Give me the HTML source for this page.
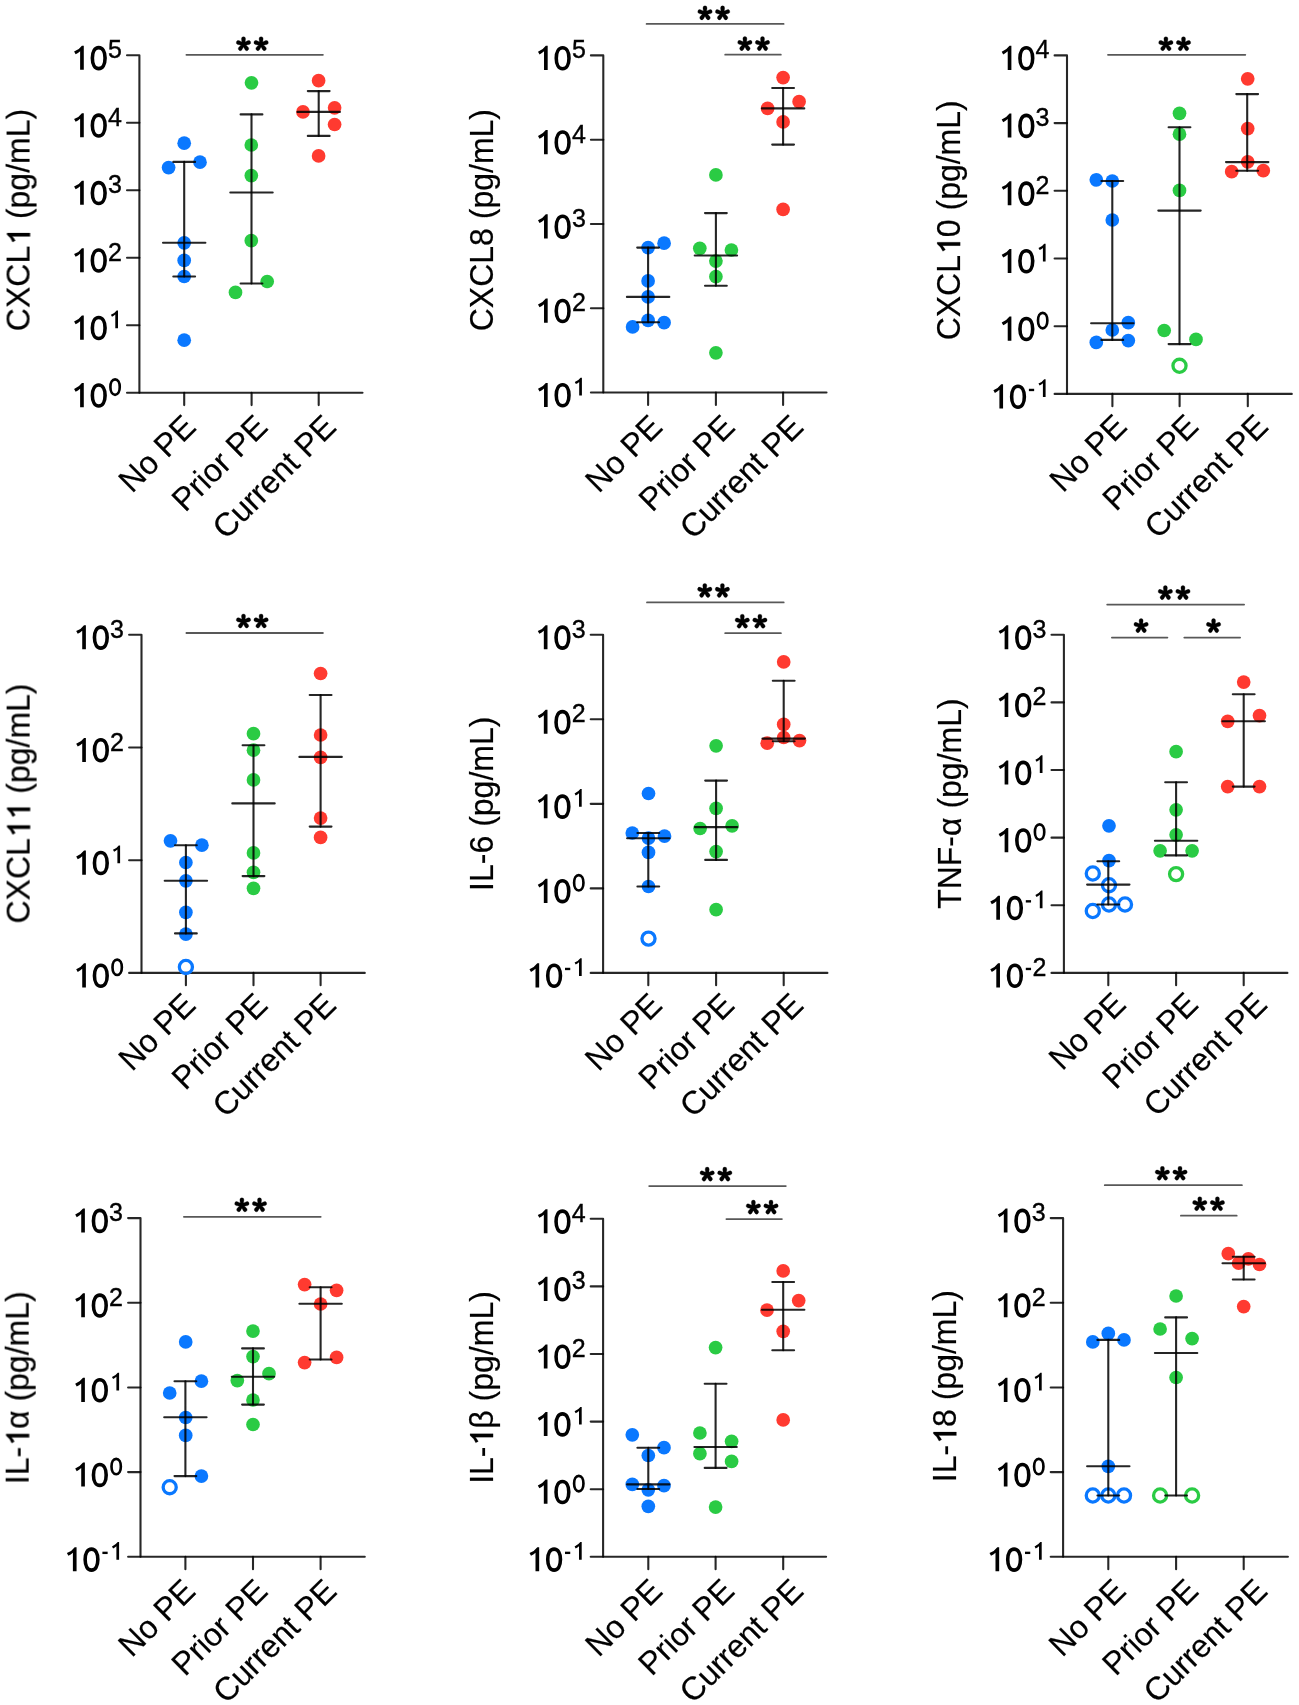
<!DOCTYPE html>
<html><head><meta charset="utf-8"><style>html,body{margin:0;padding:0;background:#fff;}svg{display:block}</style></head>
<body><svg width="1299" height="1705" viewBox="0 0 1299 1705" font-family="'Liberation Sans', sans-serif" fill="#000">
<rect width="1299" height="1705" fill="#fff"/>
<g opacity="0.999"><g><path d="M127 55.3H139.4V392.7" stroke="#000" stroke-opacity="0.85" stroke-width="2.1" fill="none" stroke-linecap="round" stroke-linejoin="round"/><path d="M127 392.7H362.5" stroke="#000" stroke-opacity="0.85" stroke-width="2.1" fill="none" stroke-linecap="round"/><path d="M127 122.78H139.4M127 190.26H139.4M127 257.74H139.4M127 325.22H139.4M184.2 392.7V405.1M251.6 392.7V405.1M318.7 392.7V405.1" stroke="#000" stroke-opacity="0.85" stroke-width="2.1" fill="none" stroke-linecap="round"/><path d="M83.79 69.8L83.79 45.69L81.92 45.69Q79.37 49.4 74.1 51.61L75.63 54.33Q78.08 53.14 80.12 51.27L80.12 69.8Z"/><path d="M98.72 47.62C102.53 47.62 105.08 51.81 105.08 58.1C105.08 64.39 102.53 68.59 98.72 68.59C94.9 68.59 92.36 64.39 92.36 58.1C92.36 51.81 94.9 47.62 98.72 47.62Z" fill="none" stroke="#000" stroke-width="3.6"/><text x="0" y="0" font-size="25" transform="translate(108 58.3) scale(1 1.035)" stroke="#000" stroke-width="0.4">5</text><path d="M83.79 137.28L83.79 113.17L81.92 113.17Q79.37 116.88 74.1 119.09L75.63 121.81Q78.08 120.62 80.12 118.75L80.12 137.28Z"/><path d="M98.72 115.1C102.53 115.1 105.08 119.29 105.08 125.58C105.08 131.87 102.53 136.07 98.72 136.07C94.9 136.07 92.36 131.87 92.36 125.58C92.36 119.29 94.9 115.1 98.72 115.1Z" fill="none" stroke="#000" stroke-width="3.6"/><text x="0" y="0" font-size="25" transform="translate(108 125.78) scale(1 1.035)" stroke="#000" stroke-width="0.4">4</text><path d="M83.79 204.76L83.79 180.65L81.92 180.65Q79.37 184.36 74.1 186.57L75.63 189.29Q78.08 188.1 80.12 186.23L80.12 204.76Z"/><path d="M98.72 182.58C102.53 182.58 105.08 186.77 105.08 193.06C105.08 199.35 102.53 203.55 98.72 203.55C94.9 203.55 92.36 199.35 92.36 193.06C92.36 186.77 94.9 182.58 98.72 182.58Z" fill="none" stroke="#000" stroke-width="3.6"/><text x="0" y="0" font-size="25" transform="translate(108 193.26) scale(1 1.035)" stroke="#000" stroke-width="0.4">3</text><path d="M83.79 272.24L83.79 248.13L81.92 248.13Q79.37 251.84 74.1 254.05L75.63 256.77Q78.08 255.58 80.12 253.71L80.12 272.24Z"/><path d="M98.72 250.06C102.53 250.06 105.08 254.25 105.08 260.54C105.08 266.83 102.53 271.03 98.72 271.03C94.9 271.03 92.36 266.83 92.36 260.54C92.36 254.25 94.9 250.06 98.72 250.06Z" fill="none" stroke="#000" stroke-width="3.6"/><text x="0" y="0" font-size="25" transform="translate(108 260.74) scale(1 1.035)" stroke="#000" stroke-width="0.4">2</text><path d="M83.79 339.72L83.79 315.61L81.92 315.61Q79.37 319.32 74.1 321.53L75.63 324.25Q78.08 323.06 80.12 321.19L80.12 339.72Z"/><path d="M98.72 317.54C102.53 317.54 105.08 321.73 105.08 328.02C105.08 334.31 102.53 338.51 98.72 338.51C94.9 338.51 92.36 334.31 92.36 328.02C92.36 321.73 94.9 317.54 98.72 317.54Z" fill="none" stroke="#000" stroke-width="3.6"/><path d="M118 328.22L118 310.49L116.62 310.49Q114.75 313.22 110.88 314.84L112 316.84Q113.8 315.97 115.3 314.59L115.3 328.22Z"/><path d="M83.79 407.2L83.79 383.09L81.92 383.09Q79.37 386.8 74.1 389.01L75.63 391.73Q78.08 390.54 80.12 388.67L80.12 407.2Z"/><path d="M98.72 385.02C102.53 385.02 105.08 389.21 105.08 395.5C105.08 401.79 102.53 405.99 98.72 405.99C94.9 405.99 92.36 401.79 92.36 395.5C92.36 389.21 94.9 385.02 98.72 385.02Z" fill="none" stroke="#000" stroke-width="3.6"/><path d="M115.08 379.39C117.88 379.39 119.75 382.48 119.75 387.1C119.75 391.72 117.88 394.81 115.08 394.81C112.27 394.81 110.4 391.72 110.4 387.1C110.4 382.48 112.27 379.39 115.08 379.39Z" fill="none" stroke="#000" stroke-width="2.65"/><g transform="translate(30 220) rotate(-90) scale(1 1.015)"><g font-size="32" stroke="#000" stroke-width="0.2" style="font-kerning:none"><text x="-111.15" y="0" xml:space="preserve">CXCL</text><path stroke="#000" stroke-width="0.2" d="M-12.99 0L-12.99 -22.69L-14.75 -22.69Q-17.15 -19.2 -22.11 -17.12L-20.67 -14.56Q-18.36 -15.68 -16.44 -17.44L-16.44 0Z"/><text x="-7.99" y="0" xml:space="preserve"> (pg/mL)</text></g></g><g transform="translate(197.5 428.7) rotate(-45) scale(1 1.015)"><g font-size="32" stroke="#000" stroke-width="0.2" style="font-kerning:none"><text x="-92.48" y="0" xml:space="preserve">No PE</text></g></g><g transform="translate(269.4 428.7) rotate(-45) scale(1 1.015)"><g font-size="32" stroke="#000" stroke-width="0.2" style="font-kerning:none"><text x="-119.14" y="0" xml:space="preserve">Prior PE</text></g></g><g transform="translate(337.9 428.7) rotate(-45) scale(1 1.015)"><g font-size="32" stroke="#000" stroke-width="0.2" style="font-kerning:none"><text x="-158.28" y="0" xml:space="preserve">Current PE</text></g></g><circle cx="184.2" cy="143.2" r="6.85" fill="#0a78ff"/><circle cx="168.6" cy="167.6" r="6.85" fill="#0a78ff"/><circle cx="200" cy="162.2" r="6.85" fill="#0a78ff"/><circle cx="184.2" cy="242.8" r="6.85" fill="#0a78ff"/><circle cx="184.2" cy="260.4" r="6.85" fill="#0a78ff"/><circle cx="184.2" cy="276.5" r="6.85" fill="#0a78ff"/><circle cx="184.2" cy="340.2" r="6.85" fill="#0a78ff"/><circle cx="251.5" cy="82.8" r="6.85" fill="#2acb44"/><circle cx="251.3" cy="145" r="6.85" fill="#2acb44"/><circle cx="251.3" cy="175.6" r="6.85" fill="#2acb44"/><circle cx="251.3" cy="240.7" r="6.85" fill="#2acb44"/><circle cx="267.2" cy="281.5" r="6.85" fill="#2acb44"/><circle cx="235.5" cy="292.4" r="6.85" fill="#2acb44"/><circle cx="318.6" cy="80.7" r="6.85" fill="#ff3a30"/><circle cx="303" cy="111.9" r="6.85" fill="#ff3a30"/><circle cx="334.6" cy="107.8" r="6.85" fill="#ff3a30"/><circle cx="334.6" cy="124.5" r="6.85" fill="#ff3a30"/><circle cx="318.6" cy="155.9" r="6.85" fill="#ff3a30"/><path d="M184.2 161.9V276.5M251.5 114.4V283.5M318.7 91.1V135.9" stroke="#000" stroke-opacity="0.86" stroke-width="2.1" fill="none" stroke-linecap="round"/><path d="M173.3 161.9H195.1M173.3 276.5H195.1M163 242.8H205.4M240.6 114.4H262.4M240.6 283.5H262.4M230.3 192.5H272.7M307.8 91.1H329.6M307.8 135.9H329.6M297.5 111.9H339.9" stroke="#000" stroke-opacity="0.86" stroke-width="2.1" fill="none" stroke-linecap="round"/><path d="M186.4 54.8H322.9" stroke="#585858" stroke-width="1.8" fill="none" stroke-linecap="round"/><path d="M244.85 44.2L245.55 38.75A2.05 2.05 0 0 0 241.45 38.75L242.15 44.2ZM243.92 45.48L249.32 44.47A2.05 2.05 0 0 0 248.05 40.57L243.08 42.92ZM242.41 44.99L245.04 49.81A2.05 2.05 0 0 0 248.36 47.4L244.59 43.41ZM242.41 43.41L238.64 47.4A2.05 2.05 0 0 0 241.96 49.81L244.59 44.99ZM243.92 42.92L238.95 40.57A2.05 2.05 0 0 0 237.68 44.47L243.08 45.48Z" fill="#000" stroke="#000" stroke-width="0.3" stroke-linejoin="round"/><path d="M262.45 44.2L263.15 38.75A2.05 2.05 0 0 0 259.05 38.75L259.75 44.2ZM261.52 45.48L266.92 44.47A2.05 2.05 0 0 0 265.65 40.57L260.68 42.92ZM260.01 44.99L262.64 49.81A2.05 2.05 0 0 0 265.96 47.4L262.19 43.41ZM260.01 43.41L256.24 47.4A2.05 2.05 0 0 0 259.56 49.81L262.19 44.99ZM261.52 42.92L256.55 40.57A2.05 2.05 0 0 0 255.28 44.47L260.68 45.48Z" fill="#000" stroke="#000" stroke-width="0.3" stroke-linejoin="round"/></g><g><path d="M590.9 55.4H603.3V392.5" stroke="#000" stroke-opacity="0.85" stroke-width="2.1" fill="none" stroke-linecap="round" stroke-linejoin="round"/><path d="M590.9 392.5H826.5" stroke="#000" stroke-opacity="0.85" stroke-width="2.1" fill="none" stroke-linecap="round"/><path d="M590.9 139.68H603.3M590.9 223.95H603.3M590.9 308.23H603.3M648.1 392.5V404.9M715.9 392.5V404.9M783.1 392.5V404.9" stroke="#000" stroke-opacity="0.85" stroke-width="2.1" fill="none" stroke-linecap="round"/><path d="M547.69 69.9L547.69 45.79L545.82 45.79Q543.27 49.5 538 51.71L539.53 54.43Q541.98 53.24 544.02 51.37L544.02 69.9Z"/><path d="M562.62 47.72C566.43 47.72 568.98 51.91 568.98 58.2C568.98 64.49 566.43 68.69 562.62 68.69C558.8 68.69 556.26 64.49 556.26 58.2C556.26 51.91 558.8 47.72 562.62 47.72Z" fill="none" stroke="#000" stroke-width="3.6"/><text x="0" y="0" font-size="25" transform="translate(571.9 58.4) scale(1 1.035)" stroke="#000" stroke-width="0.4">5</text><path d="M547.69 154.18L547.69 130.07L545.82 130.07Q543.27 133.78 538 135.99L539.53 138.71Q541.98 137.52 544.02 135.65L544.02 154.18Z"/><path d="M562.62 132C566.43 132 568.98 136.19 568.98 142.48C568.98 148.77 566.43 152.96 562.62 152.96C558.8 152.96 556.26 148.77 556.26 142.48C556.26 136.19 558.8 132 562.62 132Z" fill="none" stroke="#000" stroke-width="3.6"/><text x="0" y="0" font-size="25" transform="translate(571.9 142.68) scale(1 1.035)" stroke="#000" stroke-width="0.4">4</text><path d="M547.69 238.45L547.69 214.34L545.82 214.34Q543.27 218.05 538 220.26L539.53 222.98Q541.98 221.79 544.02 219.92L544.02 238.45Z"/><path d="M562.62 216.27C566.43 216.27 568.98 220.46 568.98 226.75C568.98 233.04 566.43 237.24 562.62 237.24C558.8 237.24 556.26 233.04 556.26 226.75C556.26 220.46 558.8 216.27 562.62 216.27Z" fill="none" stroke="#000" stroke-width="3.6"/><text x="0" y="0" font-size="25" transform="translate(571.9 226.95) scale(1 1.035)" stroke="#000" stroke-width="0.4">3</text><path d="M547.69 322.73L547.69 298.62L545.82 298.62Q543.27 302.33 538 304.54L539.53 307.25Q541.98 306.06 544.02 304.2L544.02 322.73Z"/><path d="M562.62 300.55C566.43 300.55 568.98 304.74 568.98 311.03C568.98 317.32 566.43 321.51 562.62 321.51C558.8 321.51 556.26 317.32 556.26 311.03C556.26 304.74 558.8 300.55 562.62 300.55Z" fill="none" stroke="#000" stroke-width="3.6"/><text x="0" y="0" font-size="25" transform="translate(571.9 311.23) scale(1 1.035)" stroke="#000" stroke-width="0.4">2</text><path d="M547.69 407L547.69 382.89L545.82 382.89Q543.27 386.6 538 388.81L539.53 391.53Q541.98 390.34 544.02 388.47L544.02 407Z"/><path d="M562.62 384.82C566.43 384.82 568.98 389.01 568.98 395.3C568.98 401.59 566.43 405.79 562.62 405.79C558.8 405.79 556.26 401.59 556.26 395.3C556.26 389.01 558.8 384.82 562.62 384.82Z" fill="none" stroke="#000" stroke-width="3.6"/><path d="M581.9 395.5L581.9 377.77L580.52 377.77Q578.65 380.5 574.77 382.12L575.9 384.12Q577.7 383.25 579.2 381.88L579.2 395.5Z"/><g transform="translate(492.5 220.1) rotate(-90) scale(1 1.015)"><g font-size="32" stroke="#000" stroke-width="0.2" style="font-kerning:none"><text x="-111.15" y="0" xml:space="preserve">CXCL8 (pg/mL)</text></g></g><g transform="translate(664.2 428.7) rotate(-45) scale(1 1.015)"><g font-size="32" stroke="#000" stroke-width="0.2" style="font-kerning:none"><text x="-92.48" y="0" xml:space="preserve">No PE</text></g></g><g transform="translate(736.5 428.7) rotate(-45) scale(1 1.015)"><g font-size="32" stroke="#000" stroke-width="0.2" style="font-kerning:none"><text x="-119.14" y="0" xml:space="preserve">Prior PE</text></g></g><g transform="translate(805.1 428.7) rotate(-45) scale(1 1.015)"><g font-size="32" stroke="#000" stroke-width="0.2" style="font-kerning:none"><text x="-158.28" y="0" xml:space="preserve">Current PE</text></g></g><circle cx="664.1" cy="243.2" r="6.85" fill="#0a78ff"/><circle cx="648.1" cy="247.6" r="6.85" fill="#0a78ff"/><circle cx="648.1" cy="280.9" r="6.85" fill="#0a78ff"/><circle cx="648.1" cy="296.9" r="6.85" fill="#0a78ff"/><circle cx="648.1" cy="320.3" r="6.85" fill="#0a78ff"/><circle cx="664.1" cy="322.7" r="6.85" fill="#0a78ff"/><circle cx="632.6" cy="326.9" r="6.85" fill="#0a78ff"/><circle cx="715.9" cy="174.9" r="6.85" fill="#2acb44"/><circle cx="699.8" cy="248.3" r="6.85" fill="#2acb44"/><circle cx="731.4" cy="250" r="6.85" fill="#2acb44"/><circle cx="715.9" cy="261.1" r="6.85" fill="#2acb44"/><circle cx="715.9" cy="276.7" r="6.85" fill="#2acb44"/><circle cx="715.9" cy="352.8" r="6.85" fill="#2acb44"/><circle cx="783.1" cy="77.6" r="6.85" fill="#ff3a30"/><circle cx="799.1" cy="101.7" r="6.85" fill="#ff3a30"/><circle cx="767.6" cy="108.4" r="6.85" fill="#ff3a30"/><circle cx="783.1" cy="121.9" r="6.85" fill="#ff3a30"/><circle cx="783.1" cy="209.4" r="6.85" fill="#ff3a30"/><path d="M648.1 247.6V322.2M715.9 213.1V285.8M783.1 88V144.6" stroke="#000" stroke-opacity="0.86" stroke-width="2.1" fill="none" stroke-linecap="round"/><path d="M637.2 247.6H659M637.2 322.2H659M626.9 296.9H669.3M705 213.1H726.8M705 285.8H726.8M694.7 255.5H737.1M772.2 88H794M772.2 144.6H794M761.9 108.4H804.3" stroke="#000" stroke-opacity="0.86" stroke-width="2.1" fill="none" stroke-linecap="round"/><path d="M646.6 23.95H783.6" stroke="#585858" stroke-width="1.8" fill="none" stroke-linecap="round"/><path d="M706.35 13.35L707.05 7.9A2.05 2.05 0 0 0 702.95 7.9L703.65 13.35ZM705.42 14.63L710.82 13.62A2.05 2.05 0 0 0 709.55 9.72L704.58 12.07ZM703.91 14.14L706.54 18.96A2.05 2.05 0 0 0 709.86 16.55L706.09 12.56ZM703.91 12.56L700.14 16.55A2.05 2.05 0 0 0 703.46 18.96L706.09 14.14ZM705.42 12.07L700.45 9.72A2.05 2.05 0 0 0 699.18 13.62L704.58 14.63Z" fill="#000" stroke="#000" stroke-width="0.3" stroke-linejoin="round"/><path d="M723.95 13.35L724.65 7.9A2.05 2.05 0 0 0 720.55 7.9L721.25 13.35ZM723.02 14.63L728.42 13.62A2.05 2.05 0 0 0 727.15 9.72L722.18 12.07ZM721.51 14.14L724.14 18.96A2.05 2.05 0 0 0 727.46 16.55L723.69 12.56ZM721.51 12.56L717.74 16.55A2.05 2.05 0 0 0 721.06 18.96L723.69 14.14ZM723.02 12.07L718.05 9.72A2.05 2.05 0 0 0 716.78 13.62L722.18 14.63Z" fill="#000" stroke="#000" stroke-width="0.3" stroke-linejoin="round"/><path d="M725.2 54.7H780.8" stroke="#585858" stroke-width="1.8" fill="none" stroke-linecap="round"/><path d="M746.25 44.1L746.95 38.65A2.05 2.05 0 0 0 742.85 38.65L743.55 44.1ZM745.32 45.38L750.72 44.37A2.05 2.05 0 0 0 749.45 40.47L744.48 42.82ZM743.81 44.89L746.44 49.71A2.05 2.05 0 0 0 749.76 47.3L745.99 43.31ZM743.81 43.31L740.04 47.3A2.05 2.05 0 0 0 743.36 49.71L745.99 44.89ZM745.32 42.82L740.35 40.47A2.05 2.05 0 0 0 739.08 44.37L744.48 45.38Z" fill="#000" stroke="#000" stroke-width="0.3" stroke-linejoin="round"/><path d="M763.85 44.1L764.55 38.65A2.05 2.05 0 0 0 760.45 38.65L761.15 44.1ZM762.92 45.38L768.32 44.37A2.05 2.05 0 0 0 767.05 40.47L762.08 42.82ZM761.41 44.89L764.04 49.71A2.05 2.05 0 0 0 767.36 47.3L763.59 43.31ZM761.41 43.31L757.64 47.3A2.05 2.05 0 0 0 760.96 49.71L763.59 44.89ZM762.92 42.82L757.95 40.47A2.05 2.05 0 0 0 756.68 44.37L762.08 45.38Z" fill="#000" stroke="#000" stroke-width="0.3" stroke-linejoin="round"/></g><g><path d="M1054.6 55.4H1067V393.9" stroke="#000" stroke-opacity="0.85" stroke-width="2.1" fill="none" stroke-linecap="round" stroke-linejoin="round"/><path d="M1054.6 393.9H1291.8" stroke="#000" stroke-opacity="0.85" stroke-width="2.1" fill="none" stroke-linecap="round"/><path d="M1054.6 123.1H1067M1054.6 190.8H1067M1054.6 258.5H1067M1054.6 326.2H1067M1112.4 393.9V406.3M1179.6 393.9V406.3M1247.8 393.9V406.3" stroke="#000" stroke-opacity="0.85" stroke-width="2.1" fill="none" stroke-linecap="round"/><path d="M1011.39 69.9L1011.39 45.79L1009.52 45.79Q1006.97 49.5 1001.7 51.71L1003.23 54.43Q1005.68 53.24 1007.72 51.37L1007.72 69.9Z"/><path d="M1026.32 47.72C1030.13 47.72 1032.68 51.91 1032.68 58.2C1032.68 64.49 1030.13 68.69 1026.32 68.69C1022.5 68.69 1019.96 64.49 1019.96 58.2C1019.96 51.91 1022.5 47.72 1026.32 47.72Z" fill="none" stroke="#000" stroke-width="3.6"/><text x="0" y="0" font-size="25" transform="translate(1035.6 58.4) scale(1 1.035)" stroke="#000" stroke-width="0.4">4</text><path d="M1011.39 137.6L1011.39 113.49L1009.52 113.49Q1006.97 117.2 1001.7 119.41L1003.23 122.13Q1005.68 120.94 1007.72 119.07L1007.72 137.6Z"/><path d="M1026.32 115.42C1030.13 115.42 1032.68 119.61 1032.68 125.9C1032.68 132.19 1030.13 136.39 1026.32 136.39C1022.5 136.39 1019.96 132.19 1019.96 125.9C1019.96 119.61 1022.5 115.42 1026.32 115.42Z" fill="none" stroke="#000" stroke-width="3.6"/><text x="0" y="0" font-size="25" transform="translate(1035.6 126.1) scale(1 1.035)" stroke="#000" stroke-width="0.4">3</text><path d="M1011.39 205.3L1011.39 181.19L1009.52 181.19Q1006.97 184.9 1001.7 187.11L1003.23 189.83Q1005.68 188.64 1007.72 186.77L1007.72 205.3Z"/><path d="M1026.32 183.12C1030.13 183.12 1032.68 187.31 1032.68 193.6C1032.68 199.89 1030.13 204.09 1026.32 204.09C1022.5 204.09 1019.96 199.89 1019.96 193.6C1019.96 187.31 1022.5 183.12 1026.32 183.12Z" fill="none" stroke="#000" stroke-width="3.6"/><text x="0" y="0" font-size="25" transform="translate(1035.6 193.8) scale(1 1.035)" stroke="#000" stroke-width="0.4">2</text><path d="M1011.39 273L1011.39 248.89L1009.52 248.89Q1006.97 252.6 1001.7 254.81L1003.23 257.53Q1005.68 256.34 1007.72 254.47L1007.72 273Z"/><path d="M1026.32 250.82C1030.13 250.82 1032.68 255.01 1032.68 261.3C1032.68 267.59 1030.13 271.79 1026.32 271.79C1022.5 271.79 1019.96 267.59 1019.96 261.3C1019.96 255.01 1022.5 250.82 1026.32 250.82Z" fill="none" stroke="#000" stroke-width="3.6"/><path d="M1045.6 261.5L1045.6 243.78L1044.22 243.78Q1042.35 246.5 1038.47 248.12L1039.6 250.12Q1041.4 249.25 1042.9 247.88L1042.9 261.5Z"/><path d="M1011.39 340.7L1011.39 316.59L1009.52 316.59Q1006.97 320.3 1001.7 322.51L1003.23 325.23Q1005.68 324.04 1007.72 322.17L1007.72 340.7Z"/><path d="M1026.32 318.52C1030.13 318.52 1032.68 322.71 1032.68 329C1032.68 335.29 1030.13 339.49 1026.32 339.49C1022.5 339.49 1019.96 335.29 1019.96 329C1019.96 322.71 1022.5 318.52 1026.32 318.52Z" fill="none" stroke="#000" stroke-width="3.6"/><path d="M1042.67 312.89C1045.48 312.89 1047.35 315.98 1047.35 320.6C1047.35 325.22 1045.48 328.31 1042.67 328.31C1039.87 328.31 1038 325.22 1038 320.6C1038 315.98 1039.87 312.89 1042.67 312.89Z" fill="none" stroke="#000" stroke-width="2.65"/><path d="M1003.07 408.4L1003.07 384.29L1001.2 384.29Q998.65 388 993.38 390.21L994.91 392.93Q997.36 391.74 999.4 389.87L999.4 408.4Z"/><path d="M1017.99 386.22C1021.81 386.22 1024.35 390.41 1024.35 396.7C1024.35 402.99 1021.81 407.19 1017.99 407.19C1014.18 407.19 1011.64 402.99 1011.64 396.7C1011.64 390.41 1014.18 386.22 1017.99 386.22Z" fill="none" stroke="#000" stroke-width="3.6"/><rect x="1028.9" y="388.77" width="5.25" height="2.38"/><path d="M1045.6 396.9L1045.6 379.17L1044.23 379.17Q1042.35 381.9 1038.48 383.52L1039.6 385.52Q1041.4 384.65 1042.9 383.27L1042.9 396.9Z"/><g transform="translate(960.2 220.3) rotate(-90) scale(1 1.015)"><g font-size="32" stroke="#000" stroke-width="0.2" style="font-kerning:none"><text x="-120.05" y="0" xml:space="preserve">CXCL</text><path stroke="#000" stroke-width="0.2" d="M-21.89 0L-21.89 -22.69L-23.65 -22.69Q-26.05 -19.2 -31.01 -17.12L-29.57 -14.56Q-27.26 -15.68 -25.34 -17.44L-25.34 0Z"/><text x="-16.89" y="0" xml:space="preserve">0 (pg/mL)</text></g></g><g transform="translate(1128.5 428.05) rotate(-45) scale(1 1.015)"><g font-size="32" stroke="#000" stroke-width="0.2" style="font-kerning:none"><text x="-92.48" y="0" xml:space="preserve">No PE</text></g></g><g transform="translate(1200.2 428.05) rotate(-45) scale(1 1.015)"><g font-size="32" stroke="#000" stroke-width="0.2" style="font-kerning:none"><text x="-119.14" y="0" xml:space="preserve">Prior PE</text></g></g><g transform="translate(1269.8 428.05) rotate(-45) scale(1 1.015)"><g font-size="32" stroke="#000" stroke-width="0.2" style="font-kerning:none"><text x="-158.28" y="0" xml:space="preserve">Current PE</text></g></g><circle cx="1096.3" cy="179.8" r="6.85" fill="#0a78ff"/><circle cx="1112.3" cy="181" r="6.85" fill="#0a78ff"/><circle cx="1112.3" cy="220" r="6.85" fill="#0a78ff"/><circle cx="1128.3" cy="322.7" r="6.85" fill="#0a78ff"/><circle cx="1112.3" cy="330" r="6.85" fill="#0a78ff"/><circle cx="1096.3" cy="342.4" r="6.85" fill="#0a78ff"/><circle cx="1128.3" cy="340.6" r="6.85" fill="#0a78ff"/><circle cx="1179.5" cy="113.3" r="6.85" fill="#2acb44"/><circle cx="1179.5" cy="134.2" r="6.85" fill="#2acb44"/><circle cx="1179.5" cy="190.4" r="6.85" fill="#2acb44"/><circle cx="1164.2" cy="330.5" r="6.85" fill="#2acb44"/><circle cx="1196" cy="339.4" r="6.85" fill="#2acb44"/><circle cx="1179.5" cy="365.8" r="6.55" fill="none" stroke="#2acb44" stroke-width="3.3"/><circle cx="1247.7" cy="78.8" r="6.85" fill="#ff3a30"/><circle cx="1247.7" cy="128.6" r="6.85" fill="#ff3a30"/><circle cx="1247.7" cy="161.8" r="6.85" fill="#ff3a30"/><circle cx="1231.7" cy="171.7" r="6.85" fill="#ff3a30"/><circle cx="1263.3" cy="170.7" r="6.85" fill="#ff3a30"/><path d="M1112.3 181V339.9M1179.5 127.3V344.1M1247.2 94.1V170.7" stroke="#000" stroke-opacity="0.86" stroke-width="2.1" fill="none" stroke-linecap="round"/><path d="M1101.4 181H1123.2M1101.4 339.9H1123.2M1091.1 323.2H1133.5M1168.6 127.3H1190.4M1168.6 344.1H1190.4M1158.3 210.6H1200.7M1236.3 94.1H1258.1M1236.3 170.7H1258.1M1226 162.1H1268.4" stroke="#000" stroke-opacity="0.86" stroke-width="2.1" fill="none" stroke-linecap="round"/><path d="M1108 54.8H1245.3" stroke="#585858" stroke-width="1.8" fill="none" stroke-linecap="round"/><path d="M1167.25 44.2L1167.95 38.75A2.05 2.05 0 0 0 1163.85 38.75L1164.55 44.2ZM1166.32 45.48L1171.72 44.47A2.05 2.05 0 0 0 1170.45 40.57L1165.48 42.92ZM1164.81 44.99L1167.44 49.81A2.05 2.05 0 0 0 1170.76 47.4L1166.99 43.41ZM1164.81 43.41L1161.04 47.4A2.05 2.05 0 0 0 1164.36 49.81L1166.99 44.99ZM1166.32 42.92L1161.35 40.57A2.05 2.05 0 0 0 1160.08 44.47L1165.48 45.48Z" fill="#000" stroke="#000" stroke-width="0.3" stroke-linejoin="round"/><path d="M1184.85 44.2L1185.55 38.75A2.05 2.05 0 0 0 1181.45 38.75L1182.15 44.2ZM1183.92 45.48L1189.32 44.47A2.05 2.05 0 0 0 1188.05 40.57L1183.08 42.92ZM1182.41 44.99L1185.04 49.81A2.05 2.05 0 0 0 1188.36 47.4L1184.59 43.41ZM1182.41 43.41L1178.64 47.4A2.05 2.05 0 0 0 1181.96 49.81L1184.59 44.99ZM1183.92 42.92L1178.95 40.57A2.05 2.05 0 0 0 1177.68 44.47L1183.08 45.48Z" fill="#000" stroke="#000" stroke-width="0.3" stroke-linejoin="round"/></g><g><path d="M129.1 634.8H141.5V972.9" stroke="#000" stroke-opacity="0.85" stroke-width="2.1" fill="none" stroke-linecap="round" stroke-linejoin="round"/><path d="M129.1 972.9H364.8" stroke="#000" stroke-opacity="0.85" stroke-width="2.1" fill="none" stroke-linecap="round"/><path d="M129.1 747.5H141.5M129.1 860.2H141.5M185.9 972.9V985.3M253.5 972.9V985.3M320.6 972.9V985.3" stroke="#000" stroke-opacity="0.85" stroke-width="2.1" fill="none" stroke-linecap="round"/><path d="M85.89 649.3L85.89 625.19L84.02 625.19Q81.47 628.9 76.2 631.11L77.73 633.83Q80.18 632.64 82.22 630.77L82.22 649.3Z"/><path d="M100.82 627.12C104.63 627.12 107.18 631.31 107.18 637.6C107.18 643.89 104.63 648.09 100.82 648.09C97 648.09 94.46 643.89 94.46 637.6C94.46 631.31 97 627.12 100.82 627.12Z" fill="none" stroke="#000" stroke-width="3.6"/><text x="0" y="0" font-size="25" transform="translate(110.1 637.8) scale(1 1.035)" stroke="#000" stroke-width="0.4">3</text><path d="M85.89 762L85.89 737.89L84.02 737.89Q81.47 741.6 76.2 743.81L77.73 746.53Q80.18 745.34 82.22 743.47L82.22 762Z"/><path d="M100.82 739.82C104.63 739.82 107.18 744.01 107.18 750.3C107.18 756.59 104.63 760.79 100.82 760.79C97 760.79 94.46 756.59 94.46 750.3C94.46 744.01 97 739.82 100.82 739.82Z" fill="none" stroke="#000" stroke-width="3.6"/><text x="0" y="0" font-size="25" transform="translate(110.1 750.5) scale(1 1.035)" stroke="#000" stroke-width="0.4">2</text><path d="M85.89 874.7L85.89 850.59L84.02 850.59Q81.47 854.3 76.2 856.51L77.73 859.23Q80.18 858.04 82.22 856.17L82.22 874.7Z"/><path d="M100.82 852.52C104.63 852.52 107.18 856.71 107.18 863C107.18 869.29 104.63 873.49 100.82 873.49C97 873.49 94.46 869.29 94.46 863C94.46 856.71 97 852.52 100.82 852.52Z" fill="none" stroke="#000" stroke-width="3.6"/><path d="M120.1 863.2L120.1 845.47L118.72 845.47Q116.85 848.2 112.97 849.82L114.1 851.82Q115.9 850.95 117.4 849.57L117.4 863.2Z"/><path d="M85.89 987.4L85.89 963.29L84.02 963.29Q81.47 967 76.2 969.21L77.73 971.93Q80.18 970.74 82.22 968.87L82.22 987.4Z"/><path d="M100.82 965.22C104.63 965.22 107.18 969.41 107.18 975.7C107.18 981.99 104.63 986.19 100.82 986.19C97 986.19 94.46 981.99 94.46 975.7C94.46 969.41 97 965.22 100.82 965.22Z" fill="none" stroke="#000" stroke-width="3.6"/><path d="M117.17 959.59C119.98 959.59 121.85 962.68 121.85 967.3C121.85 971.92 119.98 975.01 117.17 975.01C114.37 975.01 112.5 971.92 112.5 967.3C112.5 962.68 114.37 959.59 117.17 959.59Z" fill="none" stroke="#000" stroke-width="2.65"/><g transform="translate(30.05 803.5) rotate(-90) scale(1 1.015)"><g font-size="32" stroke="#000" stroke-width="0.2" style="font-kerning:none"><text x="-120.05" y="0" xml:space="preserve">CXCL</text><path stroke="#000" stroke-width="0.2" d="M-21.89 0L-21.89 -22.69L-23.65 -22.69Q-26.05 -19.2 -31.01 -17.12L-29.57 -14.56Q-27.26 -15.68 -25.34 -17.44L-25.34 0Z"/><path stroke="#000" stroke-width="0.2" d="M-4.09 0L-4.09 -22.69L-5.85 -22.69Q-8.25 -19.2 -13.21 -17.12L-11.77 -14.56Q-9.47 -15.68 -7.55 -17.44L-7.55 0Z"/><text x="0.91" y="0" xml:space="preserve"> (pg/mL)</text></g></g><g transform="translate(197.3 1006.9) rotate(-45) scale(1 1.015)"><g font-size="32" stroke="#000" stroke-width="0.2" style="font-kerning:none"><text x="-92.48" y="0" xml:space="preserve">No PE</text></g></g><g transform="translate(269.4 1006.9) rotate(-45) scale(1 1.015)"><g font-size="32" stroke="#000" stroke-width="0.2" style="font-kerning:none"><text x="-119.14" y="0" xml:space="preserve">Prior PE</text></g></g><g transform="translate(337.9 1006.9) rotate(-45) scale(1 1.015)"><g font-size="32" stroke="#000" stroke-width="0.2" style="font-kerning:none"><text x="-158.28" y="0" xml:space="preserve">Current PE</text></g></g><circle cx="170.5" cy="840.8" r="6.85" fill="#0a78ff"/><circle cx="201.9" cy="845.2" r="6.85" fill="#0a78ff"/><circle cx="185.9" cy="862.5" r="6.85" fill="#0a78ff"/><circle cx="185.9" cy="880.8" r="6.85" fill="#0a78ff"/><circle cx="185.9" cy="912.3" r="6.85" fill="#0a78ff"/><circle cx="185.9" cy="934.2" r="6.85" fill="#0a78ff"/><circle cx="185.9" cy="967" r="6.55" fill="none" stroke="#0a78ff" stroke-width="3.3"/><circle cx="253.5" cy="733.7" r="6.85" fill="#2acb44"/><circle cx="253.5" cy="750.2" r="6.85" fill="#2acb44"/><circle cx="253.5" cy="779.9" r="6.85" fill="#2acb44"/><circle cx="253.5" cy="852.9" r="6.85" fill="#2acb44"/><circle cx="253.5" cy="872.3" r="6.85" fill="#2acb44"/><circle cx="253.5" cy="888.3" r="6.85" fill="#2acb44"/><circle cx="320.6" cy="673.5" r="6.85" fill="#ff3a30"/><circle cx="320.6" cy="735" r="6.85" fill="#ff3a30"/><circle cx="320.6" cy="757.4" r="6.85" fill="#ff3a30"/><circle cx="320.6" cy="818.1" r="6.85" fill="#ff3a30"/><circle cx="320.6" cy="837.4" r="6.85" fill="#ff3a30"/><path d="M185.9 845.2V933.4M253.5 745.3V876.1M320.6 695V826.6" stroke="#000" stroke-opacity="0.86" stroke-width="2.1" fill="none" stroke-linecap="round"/><path d="M175 845.2H196.8M175 933.4H196.8M164.7 880.8H207.1M242.6 745.3H264.4M242.6 876.1H264.4M232.3 803.4H274.7M309.7 695H331.5M309.7 826.6H331.5M299.4 756.9H341.8" stroke="#000" stroke-opacity="0.86" stroke-width="2.1" fill="none" stroke-linecap="round"/><path d="M186.4 633H322.9" stroke="#585858" stroke-width="1.8" fill="none" stroke-linecap="round"/><path d="M244.85 621.5L245.55 616.05A2.05 2.05 0 0 0 241.45 616.05L242.15 621.5ZM243.92 622.78L249.32 621.77A2.05 2.05 0 0 0 248.05 617.87L243.08 620.22ZM242.41 622.29L245.04 627.11A2.05 2.05 0 0 0 248.36 624.7L244.59 620.71ZM242.41 620.71L238.64 624.7A2.05 2.05 0 0 0 241.96 627.11L244.59 622.29ZM243.92 620.22L238.95 617.87A2.05 2.05 0 0 0 237.68 621.77L243.08 622.78Z" fill="#000" stroke="#000" stroke-width="0.3" stroke-linejoin="round"/><path d="M262.45 621.5L263.15 616.05A2.05 2.05 0 0 0 259.05 616.05L259.75 621.5ZM261.52 622.78L266.92 621.77A2.05 2.05 0 0 0 265.65 617.87L260.68 620.22ZM260.01 622.29L262.64 627.11A2.05 2.05 0 0 0 265.96 624.7L262.19 620.71ZM260.01 620.71L256.24 624.7A2.05 2.05 0 0 0 259.56 627.11L262.19 622.29ZM261.52 620.22L256.55 617.87A2.05 2.05 0 0 0 255.28 621.77L260.68 622.78Z" fill="#000" stroke="#000" stroke-width="0.3" stroke-linejoin="round"/></g><g><path d="M590.7 634.8H603.1V972.9" stroke="#000" stroke-opacity="0.85" stroke-width="2.1" fill="none" stroke-linecap="round" stroke-linejoin="round"/><path d="M590.7 972.9H827.4" stroke="#000" stroke-opacity="0.85" stroke-width="2.1" fill="none" stroke-linecap="round"/><path d="M590.7 719.32H603.1M590.7 803.85H603.1M590.7 888.38H603.1M648.3 972.9V985.3M716.1 972.9V985.3M783.7 972.9V985.3" stroke="#000" stroke-opacity="0.85" stroke-width="2.1" fill="none" stroke-linecap="round"/><path d="M547.49 649.3L547.49 625.19L545.62 625.19Q543.07 628.9 537.8 631.11L539.33 633.83Q541.78 632.64 543.82 630.77L543.82 649.3Z"/><path d="M562.42 627.12C566.23 627.12 568.78 631.31 568.78 637.6C568.78 643.89 566.23 648.09 562.42 648.09C558.6 648.09 556.06 643.89 556.06 637.6C556.06 631.31 558.6 627.12 562.42 627.12Z" fill="none" stroke="#000" stroke-width="3.6"/><text x="0" y="0" font-size="25" transform="translate(571.7 637.8) scale(1 1.035)" stroke="#000" stroke-width="0.4">3</text><path d="M547.49 733.82L547.49 709.72L545.62 709.72Q543.07 713.42 537.8 715.63L539.33 718.35Q541.78 717.16 543.82 715.29L543.82 733.82Z"/><path d="M562.42 711.65C566.23 711.65 568.78 715.84 568.78 722.13C568.78 728.42 566.23 732.61 562.42 732.61C558.6 732.61 556.06 728.42 556.06 722.13C556.06 715.84 558.6 711.65 562.42 711.65Z" fill="none" stroke="#000" stroke-width="3.6"/><text x="0" y="0" font-size="25" transform="translate(571.7 722.32) scale(1 1.035)" stroke="#000" stroke-width="0.4">2</text><path d="M547.49 818.35L547.49 794.24L545.62 794.24Q543.07 797.95 537.8 800.16L539.33 802.88Q541.78 801.69 543.82 799.82L543.82 818.35Z"/><path d="M562.42 796.17C566.23 796.17 568.78 800.36 568.78 806.65C568.78 812.94 566.23 817.14 562.42 817.14C558.6 817.14 556.06 812.94 556.06 806.65C556.06 800.36 558.6 796.17 562.42 796.17Z" fill="none" stroke="#000" stroke-width="3.6"/><path d="M581.7 806.85L581.7 789.12L580.33 789.12Q578.45 791.85 574.58 793.47L575.7 795.47Q577.5 794.6 579 793.22L579 806.85Z"/><path d="M547.49 902.88L547.49 878.77L545.62 878.77Q543.07 882.48 537.8 884.68L539.33 887.4Q541.78 886.22 543.82 884.35L543.82 902.88Z"/><path d="M562.42 880.7C566.23 880.7 568.78 884.89 568.78 891.18C568.78 897.47 566.23 901.66 562.42 901.66C558.6 901.66 556.06 897.47 556.06 891.18C556.06 884.89 558.6 880.7 562.42 880.7Z" fill="none" stroke="#000" stroke-width="3.6"/><path d="M578.78 875.07C581.58 875.07 583.45 878.15 583.45 882.77C583.45 887.4 581.58 890.48 578.78 890.48C575.97 890.48 574.1 887.4 574.1 882.77C574.1 878.15 575.97 875.07 578.78 875.07Z" fill="none" stroke="#000" stroke-width="2.65"/><path d="M539.17 987.4L539.17 963.29L537.3 963.29Q534.75 967 529.48 969.21L531.01 971.93Q533.46 970.74 535.5 968.87L535.5 987.4Z"/><path d="M554.09 965.22C557.91 965.22 560.45 969.41 560.45 975.7C560.45 981.99 557.91 986.19 554.09 986.19C550.28 986.19 547.74 981.99 547.74 975.7C547.74 969.41 550.28 965.22 554.09 965.22Z" fill="none" stroke="#000" stroke-width="3.6"/><rect x="565" y="967.77" width="5.25" height="2.38"/><path d="M581.7 975.9L581.7 958.17L580.33 958.17Q578.45 960.9 574.58 962.52L575.7 964.52Q577.5 963.65 579 962.27L579 975.9Z"/><g transform="translate(492.9 803.75) rotate(-90) scale(1 1.015)"><g font-size="32" stroke="#000" stroke-width="0.2" style="font-kerning:none"><text x="-87.14" y="0" xml:space="preserve">IL-6 (pg/mL)</text></g></g><g transform="translate(663.9 1006.9) rotate(-45) scale(1 1.015)"><g font-size="32" stroke="#000" stroke-width="0.2" style="font-kerning:none"><text x="-92.48" y="0" xml:space="preserve">No PE</text></g></g><g transform="translate(736.2 1006.9) rotate(-45) scale(1 1.015)"><g font-size="32" stroke="#000" stroke-width="0.2" style="font-kerning:none"><text x="-119.14" y="0" xml:space="preserve">Prior PE</text></g></g><g transform="translate(805.2 1006.9) rotate(-45) scale(1 1.015)"><g font-size="32" stroke="#000" stroke-width="0.2" style="font-kerning:none"><text x="-158.28" y="0" xml:space="preserve">Current PE</text></g></g><circle cx="648.5" cy="793.5" r="6.85" fill="#0a78ff"/><circle cx="632.3" cy="833" r="6.85" fill="#0a78ff"/><circle cx="664.5" cy="836.1" r="6.85" fill="#0a78ff"/><circle cx="648.5" cy="838.2" r="6.85" fill="#0a78ff"/><circle cx="648.5" cy="852.4" r="6.85" fill="#0a78ff"/><circle cx="648.5" cy="886.5" r="6.85" fill="#0a78ff"/><circle cx="648.5" cy="938.6" r="6.55" fill="none" stroke="#0a78ff" stroke-width="3.3"/><circle cx="716.1" cy="745.8" r="6.85" fill="#2acb44"/><circle cx="716.1" cy="808.3" r="6.85" fill="#2acb44"/><circle cx="700.1" cy="828.5" r="6.85" fill="#2acb44"/><circle cx="732.1" cy="825.8" r="6.85" fill="#2acb44"/><circle cx="716.1" cy="851.6" r="6.85" fill="#2acb44"/><circle cx="716.1" cy="909.7" r="6.85" fill="#2acb44"/><circle cx="783.7" cy="661.9" r="6.85" fill="#ff3a30"/><circle cx="783.7" cy="724.4" r="6.85" fill="#ff3a30"/><circle cx="783.7" cy="737.5" r="6.85" fill="#ff3a30"/><circle cx="767.2" cy="743.2" r="6.85" fill="#ff3a30"/><circle cx="799.5" cy="740.6" r="6.85" fill="#ff3a30"/><path d="M648.3 833V886.5M716.1 780.6V859.9M783.7 680.8V741.2" stroke="#000" stroke-opacity="0.86" stroke-width="2.1" fill="none" stroke-linecap="round"/><path d="M637.4 833H659.2M637.4 886.5H659.2M627.1 838.2H669.5M705.2 780.6H727M705.2 859.9H727M694.9 827.1H737.3M772.8 680.8H794.6M772.8 741.2H794.6M762.5 738.6H804.9" stroke="#000" stroke-opacity="0.86" stroke-width="2.1" fill="none" stroke-linecap="round"/><path d="M647 602.4H783.7" stroke="#585858" stroke-width="1.8" fill="none" stroke-linecap="round"/><path d="M706.15 590.9L706.85 585.45A2.05 2.05 0 0 0 702.75 585.45L703.45 590.9ZM705.22 592.18L710.62 591.17A2.05 2.05 0 0 0 709.35 587.27L704.38 589.62ZM703.71 591.69L706.34 596.51A2.05 2.05 0 0 0 709.66 594.1L705.89 590.11ZM703.71 590.11L699.94 594.1A2.05 2.05 0 0 0 703.26 596.51L705.89 591.69ZM705.22 589.62L700.25 587.27A2.05 2.05 0 0 0 698.98 591.17L704.38 592.18Z" fill="#000" stroke="#000" stroke-width="0.3" stroke-linejoin="round"/><path d="M723.75 590.9L724.45 585.45A2.05 2.05 0 0 0 720.35 585.45L721.05 590.9ZM722.82 592.18L728.22 591.17A2.05 2.05 0 0 0 726.95 587.27L721.98 589.62ZM721.31 591.69L723.94 596.51A2.05 2.05 0 0 0 727.26 594.1L723.49 590.11ZM721.31 590.11L717.54 594.1A2.05 2.05 0 0 0 720.86 596.51L723.49 591.69ZM722.82 589.62L717.85 587.27A2.05 2.05 0 0 0 716.58 591.17L721.98 592.18Z" fill="#000" stroke="#000" stroke-width="0.3" stroke-linejoin="round"/><path d="M725.2 633.2H780.9" stroke="#585858" stroke-width="1.8" fill="none" stroke-linecap="round"/><path d="M743.65 621.7L744.35 616.25A2.05 2.05 0 0 0 740.25 616.25L740.95 621.7ZM742.72 622.98L748.12 621.97A2.05 2.05 0 0 0 746.85 618.07L741.88 620.42ZM741.21 622.49L743.84 627.31A2.05 2.05 0 0 0 747.16 624.9L743.39 620.91ZM741.21 620.91L737.44 624.9A2.05 2.05 0 0 0 740.76 627.31L743.39 622.49ZM742.72 620.42L737.75 618.07A2.05 2.05 0 0 0 736.48 621.97L741.88 622.98Z" fill="#000" stroke="#000" stroke-width="0.3" stroke-linejoin="round"/><path d="M761.25 621.7L761.95 616.25A2.05 2.05 0 0 0 757.85 616.25L758.55 621.7ZM760.32 622.98L765.72 621.97A2.05 2.05 0 0 0 764.45 618.07L759.48 620.42ZM758.81 622.49L761.44 627.31A2.05 2.05 0 0 0 764.76 624.9L760.99 620.91ZM758.81 620.91L755.04 624.9A2.05 2.05 0 0 0 758.36 627.31L760.99 622.49ZM760.32 620.42L755.35 618.07A2.05 2.05 0 0 0 754.08 621.97L759.48 622.98Z" fill="#000" stroke="#000" stroke-width="0.3" stroke-linejoin="round"/></g><g><path d="M1051.5 634.8H1063.9V972.9" stroke="#000" stroke-opacity="0.85" stroke-width="2.1" fill="none" stroke-linecap="round" stroke-linejoin="round"/><path d="M1051.5 972.9H1287.4" stroke="#000" stroke-opacity="0.85" stroke-width="2.1" fill="none" stroke-linecap="round"/><path d="M1051.5 702.42H1063.9M1051.5 770.04H1063.9M1051.5 837.66H1063.9M1051.5 905.28H1063.9M1108.3 972.9V985.3M1176.1 972.9V985.3M1243.7 972.9V985.3" stroke="#000" stroke-opacity="0.85" stroke-width="2.1" fill="none" stroke-linecap="round"/><path d="M1008.29 649.3L1008.29 625.19L1006.42 625.19Q1003.87 628.9 998.6 631.11L1000.13 633.83Q1002.58 632.64 1004.62 630.77L1004.62 649.3Z"/><path d="M1023.22 627.12C1027.03 627.12 1029.58 631.31 1029.58 637.6C1029.58 643.89 1027.03 648.09 1023.22 648.09C1019.4 648.09 1016.86 643.89 1016.86 637.6C1016.86 631.31 1019.4 627.12 1023.22 627.12Z" fill="none" stroke="#000" stroke-width="3.6"/><text x="0" y="0" font-size="25" transform="translate(1032.5 637.8) scale(1 1.035)" stroke="#000" stroke-width="0.4">3</text><path d="M1008.29 716.92L1008.29 692.81L1006.42 692.81Q1003.87 696.52 998.6 698.73L1000.13 701.45Q1002.58 700.26 1004.62 698.39L1004.62 716.92Z"/><path d="M1023.22 694.74C1027.03 694.74 1029.58 698.93 1029.58 705.22C1029.58 711.51 1027.03 715.71 1023.22 715.71C1019.4 715.71 1016.86 711.51 1016.86 705.22C1016.86 698.93 1019.4 694.74 1023.22 694.74Z" fill="none" stroke="#000" stroke-width="3.6"/><text x="0" y="0" font-size="25" transform="translate(1032.5 705.42) scale(1 1.035)" stroke="#000" stroke-width="0.4">2</text><path d="M1008.29 784.54L1008.29 760.43L1006.42 760.43Q1003.87 764.14 998.6 766.35L1000.13 769.07Q1002.58 767.88 1004.62 766.01L1004.62 784.54Z"/><path d="M1023.22 762.36C1027.03 762.36 1029.58 766.55 1029.58 772.84C1029.58 779.13 1027.03 783.33 1023.22 783.33C1019.4 783.33 1016.86 779.13 1016.86 772.84C1016.86 766.55 1019.4 762.36 1023.22 762.36Z" fill="none" stroke="#000" stroke-width="3.6"/><path d="M1042.5 773.04L1042.5 755.31L1041.12 755.31Q1039.25 758.04 1035.38 759.66L1036.5 761.66Q1038.3 760.79 1039.8 759.41L1039.8 773.04Z"/><path d="M1008.29 852.16L1008.29 828.05L1006.42 828.05Q1003.87 831.76 998.6 833.97L1000.13 836.69Q1002.58 835.5 1004.62 833.63L1004.62 852.16Z"/><path d="M1023.22 829.98C1027.03 829.98 1029.58 834.17 1029.58 840.46C1029.58 846.75 1027.03 850.95 1023.22 850.95C1019.4 850.95 1016.86 846.75 1016.86 840.46C1016.86 834.17 1019.4 829.98 1023.22 829.98Z" fill="none" stroke="#000" stroke-width="3.6"/><path d="M1039.58 824.35C1042.38 824.35 1044.25 827.44 1044.25 832.06C1044.25 836.68 1042.38 839.77 1039.58 839.77C1036.77 839.77 1034.9 836.68 1034.9 832.06C1034.9 827.44 1036.77 824.35 1039.58 824.35Z" fill="none" stroke="#000" stroke-width="2.65"/><path d="M999.97 919.78L999.97 895.67L998.1 895.67Q995.55 899.38 990.28 901.59L991.81 904.31Q994.26 903.12 996.3 901.25L996.3 919.78Z"/><path d="M1014.89 897.6C1018.71 897.6 1021.25 901.79 1021.25 908.08C1021.25 914.37 1018.71 918.57 1014.89 918.57C1011.08 918.57 1008.54 914.37 1008.54 908.08C1008.54 901.79 1011.08 897.6 1014.89 897.6Z" fill="none" stroke="#000" stroke-width="3.6"/><rect x="1025.8" y="900.15" width="5.25" height="2.38"/><path d="M1042.5 908.28L1042.5 890.55L1041.13 890.55Q1039.25 893.28 1035.38 894.9L1036.5 896.9Q1038.3 896.03 1039.8 894.65L1039.8 908.28Z"/><path d="M999.97 987.4L999.97 963.29L998.1 963.29Q995.55 967 990.28 969.21L991.81 971.93Q994.26 970.74 996.3 968.87L996.3 987.4Z"/><path d="M1014.89 965.22C1018.71 965.22 1021.25 969.41 1021.25 975.7C1021.25 981.99 1018.71 986.19 1014.89 986.19C1011.08 986.19 1008.54 981.99 1008.54 975.7C1008.54 969.41 1011.08 965.22 1014.89 965.22Z" fill="none" stroke="#000" stroke-width="3.6"/><rect x="1025.8" y="967.77" width="5.25" height="2.38"/><text x="0" y="0" font-size="25" transform="translate(1032.5 975.9) scale(1 1.035)" stroke="#000" stroke-width="0.4">2</text><g transform="translate(961.4 803.6) rotate(-90) scale(1 1.015)"><g font-size="32" stroke="#000" stroke-width="0.2" style="font-kerning:none"><text x="-105.25" y="0" xml:space="preserve">TNF-α (pg/mL)</text></g></g><g transform="translate(1127.6 1006.2) rotate(-45) scale(1 1.015)"><g font-size="32" stroke="#000" stroke-width="0.2" style="font-kerning:none"><text x="-92.48" y="0" xml:space="preserve">No PE</text></g></g><g transform="translate(1199.9 1006.2) rotate(-45) scale(1 1.015)"><g font-size="32" stroke="#000" stroke-width="0.2" style="font-kerning:none"><text x="-119.14" y="0" xml:space="preserve">Prior PE</text></g></g><g transform="translate(1268.9 1006.2) rotate(-45) scale(1 1.015)"><g font-size="32" stroke="#000" stroke-width="0.2" style="font-kerning:none"><text x="-158.28" y="0" xml:space="preserve">Current PE</text></g></g><circle cx="1109" cy="825.8" r="6.85" fill="#0a78ff"/><circle cx="1109" cy="860.6" r="6.85" fill="#0a78ff"/><circle cx="1092.8" cy="873.5" r="6.55" fill="none" stroke="#0a78ff" stroke-width="3.3"/><circle cx="1109" cy="885.2" r="6.55" fill="none" stroke="#0a78ff" stroke-width="3.3"/><circle cx="1109" cy="904.5" r="6.55" fill="none" stroke="#0a78ff" stroke-width="3.3"/><circle cx="1125" cy="904.5" r="6.55" fill="none" stroke="#0a78ff" stroke-width="3.3"/><circle cx="1092.8" cy="911" r="6.55" fill="none" stroke="#0a78ff" stroke-width="3.3"/><circle cx="1176.1" cy="751.7" r="6.85" fill="#2acb44"/><circle cx="1176.1" cy="809.8" r="6.85" fill="#2acb44"/><circle cx="1176.1" cy="834.8" r="6.85" fill="#2acb44"/><circle cx="1160.1" cy="850.8" r="6.85" fill="#2acb44"/><circle cx="1192.1" cy="850.8" r="6.85" fill="#2acb44"/><circle cx="1176.1" cy="874.1" r="6.55" fill="none" stroke="#2acb44" stroke-width="3.3"/><circle cx="1243.7" cy="682.1" r="6.85" fill="#ff3a30"/><circle cx="1259.5" cy="715.6" r="6.85" fill="#ff3a30"/><circle cx="1227.7" cy="721.3" r="6.85" fill="#ff3a30"/><circle cx="1227.7" cy="786.6" r="6.85" fill="#ff3a30"/><circle cx="1259.5" cy="786.6" r="6.85" fill="#ff3a30"/><path d="M1108.3 861.2V904.5M1176.1 782.3V855.4M1243.7 694.2V786.6" stroke="#000" stroke-opacity="0.86" stroke-width="2.1" fill="none" stroke-linecap="round"/><path d="M1097.4 861.2H1119.2M1097.4 904.5H1119.2M1087.1 884.6H1129.5M1165.2 782.3H1187M1165.2 855.4H1187M1154.9 840.8H1197.3M1232.8 694.2H1254.6M1232.8 786.6H1254.6M1222.5 721.3H1264.9" stroke="#000" stroke-opacity="0.86" stroke-width="2.1" fill="none" stroke-linecap="round"/><path d="M1107.2 604.6H1244.1" stroke="#585858" stroke-width="1.8" fill="none" stroke-linecap="round"/><path d="M1166.7 593.1L1167.4 587.65A2.05 2.05 0 0 0 1163.3 587.65L1164 593.1ZM1165.77 594.38L1171.17 593.37A2.05 2.05 0 0 0 1169.9 589.47L1164.93 591.82ZM1164.26 593.89L1166.89 598.71A2.05 2.05 0 0 0 1170.21 596.3L1166.44 592.31ZM1164.26 592.31L1160.49 596.3A2.05 2.05 0 0 0 1163.81 598.71L1166.44 593.89ZM1165.77 591.82L1160.8 589.47A2.05 2.05 0 0 0 1159.53 593.37L1164.93 594.38Z" fill="#000" stroke="#000" stroke-width="0.3" stroke-linejoin="round"/><path d="M1184.3 593.1L1185 587.65A2.05 2.05 0 0 0 1180.9 587.65L1181.6 593.1ZM1183.37 594.38L1188.77 593.37A2.05 2.05 0 0 0 1187.5 589.47L1182.53 591.82ZM1181.86 593.89L1184.49 598.71A2.05 2.05 0 0 0 1187.81 596.3L1184.04 592.31ZM1181.86 592.31L1178.09 596.3A2.05 2.05 0 0 0 1181.41 598.71L1184.04 593.89ZM1183.37 591.82L1178.4 589.47A2.05 2.05 0 0 0 1177.13 593.37L1182.53 594.38Z" fill="#000" stroke="#000" stroke-width="0.3" stroke-linejoin="round"/><path d="M1111.9 637.6H1167.4" stroke="#585858" stroke-width="1.8" fill="none" stroke-linecap="round"/><path d="M1142.45 626.1L1143.15 620.65A2.05 2.05 0 0 0 1139.05 620.65L1139.75 626.1ZM1141.52 627.38L1146.92 626.37A2.05 2.05 0 0 0 1145.65 622.47L1140.68 624.82ZM1140.01 626.89L1142.64 631.71A2.05 2.05 0 0 0 1145.96 629.3L1142.19 625.31ZM1140.01 625.31L1136.24 629.3A2.05 2.05 0 0 0 1139.56 631.71L1142.19 626.89ZM1141.52 624.82L1136.55 622.47A2.05 2.05 0 0 0 1135.28 626.37L1140.68 627.38Z" fill="#000" stroke="#000" stroke-width="0.3" stroke-linejoin="round"/><path d="M1184.3 637.6H1240.1" stroke="#585858" stroke-width="1.8" fill="none" stroke-linecap="round"/><path d="M1214.9 626.1L1215.6 620.65A2.05 2.05 0 0 0 1211.5 620.65L1212.2 626.1ZM1213.97 627.38L1219.37 626.37A2.05 2.05 0 0 0 1218.1 622.47L1213.13 624.82ZM1212.46 626.89L1215.09 631.71A2.05 2.05 0 0 0 1218.41 629.3L1214.64 625.31ZM1212.46 625.31L1208.69 629.3A2.05 2.05 0 0 0 1212.01 631.71L1214.64 626.89ZM1213.97 624.82L1209 622.47A2.05 2.05 0 0 0 1207.73 626.37L1213.13 627.38Z" fill="#000" stroke="#000" stroke-width="0.3" stroke-linejoin="round"/></g><g><path d="M128.1 1218.1H140.5V1556.8" stroke="#000" stroke-opacity="0.85" stroke-width="2.1" fill="none" stroke-linecap="round" stroke-linejoin="round"/><path d="M128.1 1556.8H364.8" stroke="#000" stroke-opacity="0.85" stroke-width="2.1" fill="none" stroke-linecap="round"/><path d="M128.1 1302.77H140.5M128.1 1387.45H140.5M128.1 1472.12H140.5M185.4 1556.8V1569.2M253 1556.8V1569.2M320.6 1556.8V1569.2" stroke="#000" stroke-opacity="0.85" stroke-width="2.1" fill="none" stroke-linecap="round"/><path d="M84.89 1232.6L84.89 1208.49L83.02 1208.49Q80.47 1212.2 75.2 1214.41L76.73 1217.13Q79.18 1215.94 81.22 1214.07L81.22 1232.6Z"/><path d="M99.82 1210.42C103.63 1210.42 106.18 1214.61 106.18 1220.9C106.18 1227.19 103.63 1231.39 99.82 1231.39C96 1231.39 93.46 1227.19 93.46 1220.9C93.46 1214.61 96 1210.42 99.82 1210.42Z" fill="none" stroke="#000" stroke-width="3.6"/><text x="0" y="0" font-size="25" transform="translate(109.1 1221.1) scale(1 1.035)" stroke="#000" stroke-width="0.4">3</text><path d="M84.89 1317.27L84.89 1293.17L83.02 1293.17Q80.47 1296.87 75.2 1299.08L76.73 1301.8Q79.18 1300.61 81.22 1298.74L81.22 1317.27Z"/><path d="M99.82 1295.1C103.63 1295.1 106.18 1299.29 106.18 1305.58C106.18 1311.87 103.63 1316.06 99.82 1316.06C96 1316.06 93.46 1311.87 93.46 1305.58C93.46 1299.29 96 1295.1 99.82 1295.1Z" fill="none" stroke="#000" stroke-width="3.6"/><text x="0" y="0" font-size="25" transform="translate(109.1 1305.77) scale(1 1.035)" stroke="#000" stroke-width="0.4">2</text><path d="M84.89 1401.95L84.89 1377.84L83.02 1377.84Q80.47 1381.55 75.2 1383.76L76.73 1386.48Q79.18 1385.29 81.22 1383.42L81.22 1401.95Z"/><path d="M99.82 1379.77C103.63 1379.77 106.18 1383.96 106.18 1390.25C106.18 1396.54 103.63 1400.74 99.82 1400.74C96 1400.74 93.46 1396.54 93.46 1390.25C93.46 1383.96 96 1379.77 99.82 1379.77Z" fill="none" stroke="#000" stroke-width="3.6"/><path d="M119.1 1390.45L119.1 1372.72L117.72 1372.72Q115.85 1375.45 111.97 1377.07L113.1 1379.07Q114.9 1378.2 116.4 1376.82L116.4 1390.45Z"/><path d="M84.89 1486.62L84.89 1462.52L83.02 1462.52Q80.47 1466.22 75.2 1468.43L76.73 1471.15Q79.18 1469.96 81.22 1468.1L81.22 1486.62Z"/><path d="M99.82 1464.45C103.63 1464.45 106.18 1468.64 106.18 1474.93C106.18 1481.22 103.63 1485.41 99.82 1485.41C96 1485.41 93.46 1481.22 93.46 1474.93C93.46 1468.64 96 1464.45 99.82 1464.45Z" fill="none" stroke="#000" stroke-width="3.6"/><path d="M116.17 1458.82C118.98 1458.82 120.85 1461.9 120.85 1466.53C120.85 1471.15 118.98 1474.23 116.17 1474.23C113.37 1474.23 111.5 1471.15 111.5 1466.53C111.5 1461.9 113.37 1458.82 116.17 1458.82Z" fill="none" stroke="#000" stroke-width="2.65"/><path d="M76.57 1571.3L76.57 1547.19L74.7 1547.19Q72.15 1550.9 66.88 1553.11L68.41 1555.83Q70.86 1554.64 72.89 1552.77L72.89 1571.3Z"/><path d="M91.49 1549.12C95.31 1549.12 97.85 1553.31 97.85 1559.6C97.85 1565.89 95.31 1570.09 91.49 1570.09C87.68 1570.09 85.14 1565.89 85.14 1559.6C85.14 1553.31 87.68 1549.12 91.49 1549.12Z" fill="none" stroke="#000" stroke-width="3.6"/><rect x="102.4" y="1551.67" width="5.25" height="2.38"/><path d="M119.1 1559.8L119.1 1542.08L117.73 1542.08Q115.85 1544.8 111.98 1546.42L113.1 1548.42Q114.9 1547.55 116.4 1546.17L116.4 1559.8Z"/><g transform="translate(29.1 1387.7) rotate(-90) scale(1 1.015)"><g font-size="32" stroke="#000" stroke-width="0.2" style="font-kerning:none"><text x="-96.39" y="0" xml:space="preserve">IL-</text><path stroke="#000" stroke-width="0.2" d="M-46.25 0L-46.25 -22.69L-48.01 -22.69Q-50.41 -19.2 -55.37 -17.12L-53.93 -14.56Q-51.62 -15.68 -49.7 -17.44L-49.7 0Z"/><text x="-41.25" y="0" xml:space="preserve">α (pg/mL)</text></g></g><g transform="translate(197.2 1592.9) rotate(-45) scale(1 1.015)"><g font-size="32" stroke="#000" stroke-width="0.2" style="font-kerning:none"><text x="-92.48" y="0" xml:space="preserve">No PE</text></g></g><g transform="translate(269.3 1592.9) rotate(-45) scale(1 1.015)"><g font-size="32" stroke="#000" stroke-width="0.2" style="font-kerning:none"><text x="-119.14" y="0" xml:space="preserve">Prior PE</text></g></g><g transform="translate(338.3 1592.9) rotate(-45) scale(1 1.015)"><g font-size="32" stroke="#000" stroke-width="0.2" style="font-kerning:none"><text x="-158.28" y="0" xml:space="preserve">Current PE</text></g></g><circle cx="185.7" cy="1341.9" r="6.85" fill="#0a78ff"/><circle cx="201.4" cy="1381.2" r="6.85" fill="#0a78ff"/><circle cx="169.7" cy="1393" r="6.85" fill="#0a78ff"/><circle cx="185.7" cy="1417.5" r="6.85" fill="#0a78ff"/><circle cx="185.7" cy="1435.4" r="6.85" fill="#0a78ff"/><circle cx="201.4" cy="1476.1" r="6.85" fill="#0a78ff"/><circle cx="169.7" cy="1487.2" r="6.55" fill="none" stroke="#0a78ff" stroke-width="3.3"/><circle cx="253" cy="1331.1" r="6.85" fill="#2acb44"/><circle cx="253" cy="1356.6" r="6.85" fill="#2acb44"/><circle cx="269" cy="1373.7" r="6.85" fill="#2acb44"/><circle cx="237.3" cy="1380.6" r="6.85" fill="#2acb44"/><circle cx="253" cy="1400" r="6.85" fill="#2acb44"/><circle cx="253" cy="1424.5" r="6.85" fill="#2acb44"/><circle cx="304.6" cy="1284.6" r="6.85" fill="#ff3a30"/><circle cx="336.6" cy="1290.3" r="6.85" fill="#ff3a30"/><circle cx="320.6" cy="1304" r="6.85" fill="#ff3a30"/><circle cx="336.6" cy="1357.4" r="6.85" fill="#ff3a30"/><circle cx="304.6" cy="1362.6" r="6.85" fill="#ff3a30"/><path d="M185.4 1381.2V1476.1M253 1348.4V1404.6M320.6 1287.2V1359.5" stroke="#000" stroke-opacity="0.86" stroke-width="2.1" fill="none" stroke-linecap="round"/><path d="M174.5 1381.2H196.3M174.5 1476.1H196.3M164.2 1417.3H206.6M242.1 1348.4H263.9M242.1 1404.6H263.9M231.8 1376.8H274.2M309.7 1287.2H331.5M309.7 1359.5H331.5M299.4 1303.7H341.8" stroke="#000" stroke-opacity="0.86" stroke-width="2.1" fill="none" stroke-linecap="round"/><path d="M183.9 1216.8H320.7" stroke="#585858" stroke-width="1.8" fill="none" stroke-linecap="round"/><path d="M243.25 1205.3L243.95 1199.85A2.05 2.05 0 0 0 239.85 1199.85L240.55 1205.3ZM242.32 1206.58L247.72 1205.57A2.05 2.05 0 0 0 246.45 1201.67L241.48 1204.02ZM240.81 1206.09L243.44 1210.91A2.05 2.05 0 0 0 246.76 1208.5L242.99 1204.51ZM240.81 1204.51L237.04 1208.5A2.05 2.05 0 0 0 240.36 1210.91L242.99 1206.09ZM242.32 1204.02L237.35 1201.67A2.05 2.05 0 0 0 236.08 1205.57L241.48 1206.58Z" fill="#000" stroke="#000" stroke-width="0.3" stroke-linejoin="round"/><path d="M260.85 1205.3L261.55 1199.85A2.05 2.05 0 0 0 257.45 1199.85L258.15 1205.3ZM259.92 1206.58L265.32 1205.57A2.05 2.05 0 0 0 264.05 1201.67L259.08 1204.02ZM258.41 1206.09L261.04 1210.91A2.05 2.05 0 0 0 264.36 1208.5L260.59 1204.51ZM258.41 1204.51L254.64 1208.5A2.05 2.05 0 0 0 257.96 1210.91L260.59 1206.09ZM259.92 1204.02L254.95 1201.67A2.05 2.05 0 0 0 253.68 1205.57L259.08 1206.58Z" fill="#000" stroke="#000" stroke-width="0.3" stroke-linejoin="round"/></g><g><path d="M590.7 1218.8H603.1V1556.8" stroke="#000" stroke-opacity="0.85" stroke-width="2.1" fill="none" stroke-linecap="round" stroke-linejoin="round"/><path d="M590.7 1556.8H826.1" stroke="#000" stroke-opacity="0.85" stroke-width="2.1" fill="none" stroke-linecap="round"/><path d="M590.7 1286.4H603.1M590.7 1354H603.1M590.7 1421.6H603.1M590.7 1489.2H603.1M648.3 1556.8V1569.2M715.6 1556.8V1569.2M783.2 1556.8V1569.2" stroke="#000" stroke-opacity="0.85" stroke-width="2.1" fill="none" stroke-linecap="round"/><path d="M547.49 1233.3L547.49 1209.19L545.62 1209.19Q543.07 1212.9 537.8 1215.11L539.33 1217.83Q541.78 1216.64 543.82 1214.77L543.82 1233.3Z"/><path d="M562.42 1211.12C566.23 1211.12 568.78 1215.31 568.78 1221.6C568.78 1227.89 566.23 1232.09 562.42 1232.09C558.6 1232.09 556.06 1227.89 556.06 1221.6C556.06 1215.31 558.6 1211.12 562.42 1211.12Z" fill="none" stroke="#000" stroke-width="3.6"/><text x="0" y="0" font-size="25" transform="translate(571.7 1221.8) scale(1 1.035)" stroke="#000" stroke-width="0.4">4</text><path d="M547.49 1300.9L547.49 1276.79L545.62 1276.79Q543.07 1280.5 537.8 1282.71L539.33 1285.43Q541.78 1284.24 543.82 1282.37L543.82 1300.9Z"/><path d="M562.42 1278.72C566.23 1278.72 568.78 1282.91 568.78 1289.2C568.78 1295.49 566.23 1299.69 562.42 1299.69C558.6 1299.69 556.06 1295.49 556.06 1289.2C556.06 1282.91 558.6 1278.72 562.42 1278.72Z" fill="none" stroke="#000" stroke-width="3.6"/><text x="0" y="0" font-size="25" transform="translate(571.7 1289.4) scale(1 1.035)" stroke="#000" stroke-width="0.4">3</text><path d="M547.49 1368.5L547.49 1344.39L545.62 1344.39Q543.07 1348.1 537.8 1350.31L539.33 1353.03Q541.78 1351.84 543.82 1349.97L543.82 1368.5Z"/><path d="M562.42 1346.32C566.23 1346.32 568.78 1350.51 568.78 1356.8C568.78 1363.09 566.23 1367.29 562.42 1367.29C558.6 1367.29 556.06 1363.09 556.06 1356.8C556.06 1350.51 558.6 1346.32 562.42 1346.32Z" fill="none" stroke="#000" stroke-width="3.6"/><text x="0" y="0" font-size="25" transform="translate(571.7 1357) scale(1 1.035)" stroke="#000" stroke-width="0.4">2</text><path d="M547.49 1436.1L547.49 1411.99L545.62 1411.99Q543.07 1415.7 537.8 1417.91L539.33 1420.63Q541.78 1419.44 543.82 1417.57L543.82 1436.1Z"/><path d="M562.42 1413.92C566.23 1413.92 568.78 1418.11 568.78 1424.4C568.78 1430.69 566.23 1434.89 562.42 1434.89C558.6 1434.89 556.06 1430.69 556.06 1424.4C556.06 1418.11 558.6 1413.92 562.42 1413.92Z" fill="none" stroke="#000" stroke-width="3.6"/><path d="M581.7 1424.6L581.7 1406.88L580.33 1406.88Q578.45 1409.6 574.58 1411.22L575.7 1413.22Q577.5 1412.35 579 1410.97L579 1424.6Z"/><path d="M547.49 1503.7L547.49 1479.59L545.62 1479.59Q543.07 1483.3 537.8 1485.51L539.33 1488.23Q541.78 1487.04 543.82 1485.17L543.82 1503.7Z"/><path d="M562.42 1481.52C566.23 1481.52 568.78 1485.71 568.78 1492C568.78 1498.29 566.23 1502.49 562.42 1502.49C558.6 1502.49 556.06 1498.29 556.06 1492C556.06 1485.71 558.6 1481.52 562.42 1481.52Z" fill="none" stroke="#000" stroke-width="3.6"/><path d="M578.78 1475.89C581.58 1475.89 583.45 1478.98 583.45 1483.6C583.45 1488.22 581.58 1491.31 578.78 1491.31C575.97 1491.31 574.1 1488.22 574.1 1483.6C574.1 1478.98 575.97 1475.89 578.78 1475.89Z" fill="none" stroke="#000" stroke-width="2.65"/><path d="M539.17 1571.3L539.17 1547.19L537.3 1547.19Q534.75 1550.9 529.48 1553.11L531.01 1555.83Q533.46 1554.64 535.5 1552.77L535.5 1571.3Z"/><path d="M554.09 1549.12C557.91 1549.12 560.45 1553.31 560.45 1559.6C560.45 1565.89 557.91 1570.09 554.09 1570.09C550.28 1570.09 547.74 1565.89 547.74 1559.6C547.74 1553.31 550.28 1549.12 554.09 1549.12Z" fill="none" stroke="#000" stroke-width="3.6"/><rect x="565" y="1551.67" width="5.25" height="2.38"/><path d="M581.7 1559.8L581.7 1542.08L580.33 1542.08Q578.45 1544.8 574.58 1546.42L575.7 1548.42Q577.5 1547.55 579 1546.17L579 1559.8Z"/><g transform="translate(493.1 1387.5) rotate(-90) scale(1 1.015)"><g font-size="32" stroke="#000" stroke-width="0.2" style="font-kerning:none"><text x="-96.34" y="0" xml:space="preserve">IL-</text><path stroke="#000" stroke-width="0.2" d="M-46.2 0L-46.2 -22.69L-47.96 -22.69Q-50.36 -19.2 -55.32 -17.12L-53.88 -14.56Q-51.58 -15.68 -49.66 -17.44L-49.66 0Z"/><text x="-41.2" y="0" xml:space="preserve">β (pg/mL)</text></g></g><g transform="translate(664.2 1592.7) rotate(-45) scale(1 1.015)"><g font-size="32" stroke="#000" stroke-width="0.2" style="font-kerning:none"><text x="-92.48" y="0" xml:space="preserve">No PE</text></g></g><g transform="translate(736 1592.7) rotate(-45) scale(1 1.015)"><g font-size="32" stroke="#000" stroke-width="0.2" style="font-kerning:none"><text x="-119.14" y="0" xml:space="preserve">Prior PE</text></g></g><g transform="translate(805 1592.7) rotate(-45) scale(1 1.015)"><g font-size="32" stroke="#000" stroke-width="0.2" style="font-kerning:none"><text x="-158.28" y="0" xml:space="preserve">Current PE</text></g></g><circle cx="632.3" cy="1434.8" r="6.85" fill="#0a78ff"/><circle cx="664" cy="1447.7" r="6.85" fill="#0a78ff"/><circle cx="648.3" cy="1455.5" r="6.85" fill="#0a78ff"/><circle cx="632.3" cy="1484.4" r="6.85" fill="#0a78ff"/><circle cx="664" cy="1485.7" r="6.85" fill="#0a78ff"/><circle cx="648.3" cy="1489.8" r="6.85" fill="#0a78ff"/><circle cx="648.3" cy="1506.3" r="6.85" fill="#0a78ff"/><circle cx="715.6" cy="1347.6" r="6.85" fill="#2acb44"/><circle cx="699.9" cy="1433" r="6.85" fill="#2acb44"/><circle cx="731.6" cy="1441.3" r="6.85" fill="#2acb44"/><circle cx="699.9" cy="1453.7" r="6.85" fill="#2acb44"/><circle cx="731.6" cy="1461.4" r="6.85" fill="#2acb44"/><circle cx="715.6" cy="1507.1" r="6.85" fill="#2acb44"/><circle cx="783.2" cy="1270.9" r="6.85" fill="#ff3a30"/><circle cx="798.7" cy="1300.6" r="6.85" fill="#ff3a30"/><circle cx="767" cy="1310.2" r="6.85" fill="#ff3a30"/><circle cx="783.2" cy="1331.3" r="6.85" fill="#ff3a30"/><circle cx="783.2" cy="1419.9" r="6.85" fill="#ff3a30"/><path d="M648.3 1447.7V1489M715.6 1383.7V1467.9M783.2 1282V1350.2" stroke="#000" stroke-opacity="0.86" stroke-width="2.1" fill="none" stroke-linecap="round"/><path d="M637.4 1447.7H659.2M637.4 1489H659.2M627.1 1484.4H669.5M704.7 1383.7H726.5M704.7 1467.9H726.5M694.4 1447H736.8M772.3 1282H794.1M772.3 1350.2H794.1M762 1309.7H804.4" stroke="#000" stroke-opacity="0.86" stroke-width="2.1" fill="none" stroke-linecap="round"/><path d="M649.2 1186.1H785.8" stroke="#585858" stroke-width="1.8" fill="none" stroke-linecap="round"/><path d="M708.55 1174.6L709.25 1169.15A2.05 2.05 0 0 0 705.15 1169.15L705.85 1174.6ZM707.62 1175.88L713.02 1174.87A2.05 2.05 0 0 0 711.75 1170.97L706.78 1173.32ZM706.11 1175.39L708.74 1180.21A2.05 2.05 0 0 0 712.06 1177.8L708.29 1173.81ZM706.11 1173.81L702.34 1177.8A2.05 2.05 0 0 0 705.66 1180.21L708.29 1175.39ZM707.62 1173.32L702.65 1170.97A2.05 2.05 0 0 0 701.38 1174.87L706.78 1175.88Z" fill="#000" stroke="#000" stroke-width="0.3" stroke-linejoin="round"/><path d="M726.15 1174.6L726.85 1169.15A2.05 2.05 0 0 0 722.75 1169.15L723.45 1174.6ZM725.22 1175.88L730.62 1174.87A2.05 2.05 0 0 0 729.35 1170.97L724.38 1173.32ZM723.71 1175.39L726.34 1180.21A2.05 2.05 0 0 0 729.66 1177.8L725.89 1173.81ZM723.71 1173.81L719.94 1177.8A2.05 2.05 0 0 0 723.26 1180.21L725.89 1175.39ZM725.22 1173.32L720.25 1170.97A2.05 2.05 0 0 0 718.98 1174.87L724.38 1175.88Z" fill="#000" stroke="#000" stroke-width="0.3" stroke-linejoin="round"/><path d="M726.4 1219.1H781.9" stroke="#585858" stroke-width="1.8" fill="none" stroke-linecap="round"/><path d="M754.75 1207.6L755.45 1202.15A2.05 2.05 0 0 0 751.35 1202.15L752.05 1207.6ZM753.82 1208.88L759.22 1207.87A2.05 2.05 0 0 0 757.95 1203.97L752.98 1206.32ZM752.31 1208.39L754.94 1213.21A2.05 2.05 0 0 0 758.26 1210.8L754.49 1206.81ZM752.31 1206.81L748.54 1210.8A2.05 2.05 0 0 0 751.86 1213.21L754.49 1208.39ZM753.82 1206.32L748.85 1203.97A2.05 2.05 0 0 0 747.58 1207.87L752.98 1208.88Z" fill="#000" stroke="#000" stroke-width="0.3" stroke-linejoin="round"/><path d="M772.35 1207.6L773.05 1202.15A2.05 2.05 0 0 0 768.95 1202.15L769.65 1207.6ZM771.42 1208.88L776.82 1207.87A2.05 2.05 0 0 0 775.55 1203.97L770.58 1206.32ZM769.91 1208.39L772.54 1213.21A2.05 2.05 0 0 0 775.86 1210.8L772.09 1206.81ZM769.91 1206.81L766.14 1210.8A2.05 2.05 0 0 0 769.46 1213.21L772.09 1208.39ZM771.42 1206.32L766.45 1203.97A2.05 2.05 0 0 0 765.18 1207.87L770.58 1208.88Z" fill="#000" stroke="#000" stroke-width="0.3" stroke-linejoin="round"/></g><g><path d="M1050.7 1218.1H1063.1V1556.8" stroke="#000" stroke-opacity="0.85" stroke-width="2.1" fill="none" stroke-linecap="round" stroke-linejoin="round"/><path d="M1050.7 1556.8H1287.9" stroke="#000" stroke-opacity="0.85" stroke-width="2.1" fill="none" stroke-linecap="round"/><path d="M1050.7 1302.77H1063.1M1050.7 1387.45H1063.1M1050.7 1472.12H1063.1M1108.3 1556.8V1569.2M1176.1 1556.8V1569.2M1243.7 1556.8V1569.2" stroke="#000" stroke-opacity="0.85" stroke-width="2.1" fill="none" stroke-linecap="round"/><path d="M1007.49 1232.6L1007.49 1208.49L1005.62 1208.49Q1003.07 1212.2 997.8 1214.41L999.33 1217.13Q1001.78 1215.94 1003.82 1214.07L1003.82 1232.6Z"/><path d="M1022.42 1210.42C1026.23 1210.42 1028.78 1214.61 1028.78 1220.9C1028.78 1227.19 1026.23 1231.39 1022.42 1231.39C1018.6 1231.39 1016.06 1227.19 1016.06 1220.9C1016.06 1214.61 1018.6 1210.42 1022.42 1210.42Z" fill="none" stroke="#000" stroke-width="3.6"/><text x="0" y="0" font-size="25" transform="translate(1031.7 1221.1) scale(1 1.035)" stroke="#000" stroke-width="0.4">3</text><path d="M1007.49 1317.27L1007.49 1293.17L1005.62 1293.17Q1003.07 1296.87 997.8 1299.08L999.33 1301.8Q1001.78 1300.61 1003.82 1298.74L1003.82 1317.27Z"/><path d="M1022.42 1295.1C1026.23 1295.1 1028.78 1299.29 1028.78 1305.58C1028.78 1311.87 1026.23 1316.06 1022.42 1316.06C1018.6 1316.06 1016.06 1311.87 1016.06 1305.58C1016.06 1299.29 1018.6 1295.1 1022.42 1295.1Z" fill="none" stroke="#000" stroke-width="3.6"/><text x="0" y="0" font-size="25" transform="translate(1031.7 1305.77) scale(1 1.035)" stroke="#000" stroke-width="0.4">2</text><path d="M1007.49 1401.95L1007.49 1377.84L1005.62 1377.84Q1003.07 1381.55 997.8 1383.76L999.33 1386.48Q1001.78 1385.29 1003.82 1383.42L1003.82 1401.95Z"/><path d="M1022.42 1379.77C1026.23 1379.77 1028.78 1383.96 1028.78 1390.25C1028.78 1396.54 1026.23 1400.74 1022.42 1400.74C1018.6 1400.74 1016.06 1396.54 1016.06 1390.25C1016.06 1383.96 1018.6 1379.77 1022.42 1379.77Z" fill="none" stroke="#000" stroke-width="3.6"/><path d="M1041.7 1390.45L1041.7 1372.72L1040.32 1372.72Q1038.45 1375.45 1034.57 1377.07L1035.7 1379.07Q1037.5 1378.2 1039 1376.82L1039 1390.45Z"/><path d="M1007.49 1486.62L1007.49 1462.52L1005.62 1462.52Q1003.07 1466.22 997.8 1468.43L999.33 1471.15Q1001.78 1469.96 1003.82 1468.1L1003.82 1486.62Z"/><path d="M1022.42 1464.45C1026.23 1464.45 1028.78 1468.64 1028.78 1474.93C1028.78 1481.22 1026.23 1485.41 1022.42 1485.41C1018.6 1485.41 1016.06 1481.22 1016.06 1474.93C1016.06 1468.64 1018.6 1464.45 1022.42 1464.45Z" fill="none" stroke="#000" stroke-width="3.6"/><path d="M1038.77 1458.82C1041.58 1458.82 1043.45 1461.9 1043.45 1466.53C1043.45 1471.15 1041.58 1474.23 1038.77 1474.23C1035.97 1474.23 1034.1 1471.15 1034.1 1466.53C1034.1 1461.9 1035.97 1458.82 1038.77 1458.82Z" fill="none" stroke="#000" stroke-width="2.65"/><path d="M999.17 1571.3L999.17 1547.19L997.3 1547.19Q994.75 1550.9 989.48 1553.11L991.01 1555.83Q993.45 1554.64 995.49 1552.77L995.49 1571.3Z"/><path d="M1014.09 1549.12C1017.91 1549.12 1020.45 1553.31 1020.45 1559.6C1020.45 1565.89 1017.91 1570.09 1014.09 1570.09C1010.28 1570.09 1007.73 1565.89 1007.73 1559.6C1007.73 1553.31 1010.28 1549.12 1014.09 1549.12Z" fill="none" stroke="#000" stroke-width="3.6"/><rect x="1025" y="1551.67" width="5.25" height="2.38"/><path d="M1041.7 1559.8L1041.7 1542.08L1040.32 1542.08Q1038.45 1544.8 1034.57 1546.42L1035.7 1548.42Q1037.5 1547.55 1039 1546.17L1039 1559.8Z"/><g transform="translate(956.4 1386.1) rotate(-90) scale(1 1.015)"><g font-size="32" stroke="#000" stroke-width="0.2" style="font-kerning:none"><text x="-96.04" y="0" xml:space="preserve">IL-</text><path stroke="#000" stroke-width="0.2" d="M-45.9 0L-45.9 -22.69L-47.66 -22.69Q-50.06 -19.2 -55.02 -17.12L-53.58 -14.56Q-51.27 -15.68 -49.35 -17.44L-49.35 0Z"/><text x="-40.9" y="0" xml:space="preserve">8 (pg/mL)</text></g></g><g transform="translate(1127.7 1592.7) rotate(-45) scale(1 1.015)"><g font-size="32" stroke="#000" stroke-width="0.2" style="font-kerning:none"><text x="-92.48" y="0" xml:space="preserve">No PE</text></g></g><g transform="translate(1200 1592.7) rotate(-45) scale(1 1.015)"><g font-size="32" stroke="#000" stroke-width="0.2" style="font-kerning:none"><text x="-119.14" y="0" xml:space="preserve">Prior PE</text></g></g><g transform="translate(1269 1592.7) rotate(-45) scale(1 1.015)"><g font-size="32" stroke="#000" stroke-width="0.2" style="font-kerning:none"><text x="-158.28" y="0" xml:space="preserve">Current PE</text></g></g><circle cx="1108.3" cy="1333.4" r="6.85" fill="#0a78ff"/><circle cx="1092.8" cy="1341.9" r="6.85" fill="#0a78ff"/><circle cx="1124" cy="1339.9" r="6.85" fill="#0a78ff"/><circle cx="1108.3" cy="1466.3" r="6.85" fill="#0a78ff"/><circle cx="1092.8" cy="1495.5" r="6.55" fill="none" stroke="#0a78ff" stroke-width="3.3"/><circle cx="1108.3" cy="1495.5" r="6.55" fill="none" stroke="#0a78ff" stroke-width="3.3"/><circle cx="1124" cy="1495.5" r="6.55" fill="none" stroke="#0a78ff" stroke-width="3.3"/><circle cx="1176.1" cy="1296" r="6.85" fill="#2acb44"/><circle cx="1160.1" cy="1329" r="6.85" fill="#2acb44"/><circle cx="1192.1" cy="1338.6" r="6.85" fill="#2acb44"/><circle cx="1176.1" cy="1377.5" r="6.85" fill="#2acb44"/><circle cx="1160.1" cy="1495.5" r="6.55" fill="none" stroke="#2acb44" stroke-width="3.3"/><circle cx="1192.1" cy="1495.5" r="6.55" fill="none" stroke="#2acb44" stroke-width="3.3"/><circle cx="1228.3" cy="1253.7" r="6.85" fill="#ff3a30"/><circle cx="1248.4" cy="1258.8" r="6.85" fill="#ff3a30"/><circle cx="1238.6" cy="1263.2" r="6.85" fill="#ff3a30"/><circle cx="1259.5" cy="1264.5" r="6.85" fill="#ff3a30"/><circle cx="1243.7" cy="1306.6" r="6.85" fill="#ff3a30"/><path d="M1108.3 1339.9V1495.5M1176.1 1317.4V1495.5M1243.7 1256.8V1279.5" stroke="#000" stroke-opacity="0.86" stroke-width="2.1" fill="none" stroke-linecap="round"/><path d="M1097.4 1339.9H1119.2M1097.4 1495.5H1119.2M1087.1 1466.3H1129.5M1165.2 1317.4H1187M1165.2 1495.5H1187M1154.9 1353H1197.3M1232.8 1256.8H1254.6M1232.8 1279.5H1254.6M1222.5 1263.2H1264.9" stroke="#000" stroke-opacity="0.86" stroke-width="2.1" fill="none" stroke-linecap="round"/><path d="M1104.8 1185.2H1241.9" stroke="#585858" stroke-width="1.8" fill="none" stroke-linecap="round"/><path d="M1163.75 1173.7L1164.45 1168.25A2.05 2.05 0 0 0 1160.35 1168.25L1161.05 1173.7ZM1162.82 1174.98L1168.22 1173.97A2.05 2.05 0 0 0 1166.95 1170.07L1161.98 1172.42ZM1161.31 1174.49L1163.94 1179.31A2.05 2.05 0 0 0 1167.26 1176.9L1163.49 1172.91ZM1161.31 1172.91L1157.54 1176.9A2.05 2.05 0 0 0 1160.86 1179.31L1163.49 1174.49ZM1162.82 1172.42L1157.85 1170.07A2.05 2.05 0 0 0 1156.58 1173.97L1161.98 1174.98Z" fill="#000" stroke="#000" stroke-width="0.3" stroke-linejoin="round"/><path d="M1181.35 1173.7L1182.05 1168.25A2.05 2.05 0 0 0 1177.95 1168.25L1178.65 1173.7ZM1180.42 1174.98L1185.82 1173.97A2.05 2.05 0 0 0 1184.55 1170.07L1179.58 1172.42ZM1178.91 1174.49L1181.54 1179.31A2.05 2.05 0 0 0 1184.86 1176.9L1181.09 1172.91ZM1178.91 1172.91L1175.14 1176.9A2.05 2.05 0 0 0 1178.46 1179.31L1181.09 1174.49ZM1180.42 1172.42L1175.45 1170.07A2.05 2.05 0 0 0 1174.18 1173.97L1179.58 1174.98Z" fill="#000" stroke="#000" stroke-width="0.3" stroke-linejoin="round"/><path d="M1180.9 1215.7H1236.7" stroke="#585858" stroke-width="1.8" fill="none" stroke-linecap="round"/><path d="M1201.15 1204.2L1201.85 1198.75A2.05 2.05 0 0 0 1197.75 1198.75L1198.45 1204.2ZM1200.22 1205.48L1205.62 1204.47A2.05 2.05 0 0 0 1204.35 1200.57L1199.38 1202.92ZM1198.71 1204.99L1201.34 1209.81A2.05 2.05 0 0 0 1204.66 1207.4L1200.89 1203.41ZM1198.71 1203.41L1194.94 1207.4A2.05 2.05 0 0 0 1198.26 1209.81L1200.89 1204.99ZM1200.22 1202.92L1195.25 1200.57A2.05 2.05 0 0 0 1193.98 1204.47L1199.38 1205.48Z" fill="#000" stroke="#000" stroke-width="0.3" stroke-linejoin="round"/><path d="M1218.75 1204.2L1219.45 1198.75A2.05 2.05 0 0 0 1215.35 1198.75L1216.05 1204.2ZM1217.82 1205.48L1223.22 1204.47A2.05 2.05 0 0 0 1221.95 1200.57L1216.98 1202.92ZM1216.31 1204.99L1218.94 1209.81A2.05 2.05 0 0 0 1222.26 1207.4L1218.49 1203.41ZM1216.31 1203.41L1212.54 1207.4A2.05 2.05 0 0 0 1215.86 1209.81L1218.49 1204.99ZM1217.82 1202.92L1212.85 1200.57A2.05 2.05 0 0 0 1211.58 1204.47L1216.98 1205.48Z" fill="#000" stroke="#000" stroke-width="0.3" stroke-linejoin="round"/></g></g>
</svg></body></html>
